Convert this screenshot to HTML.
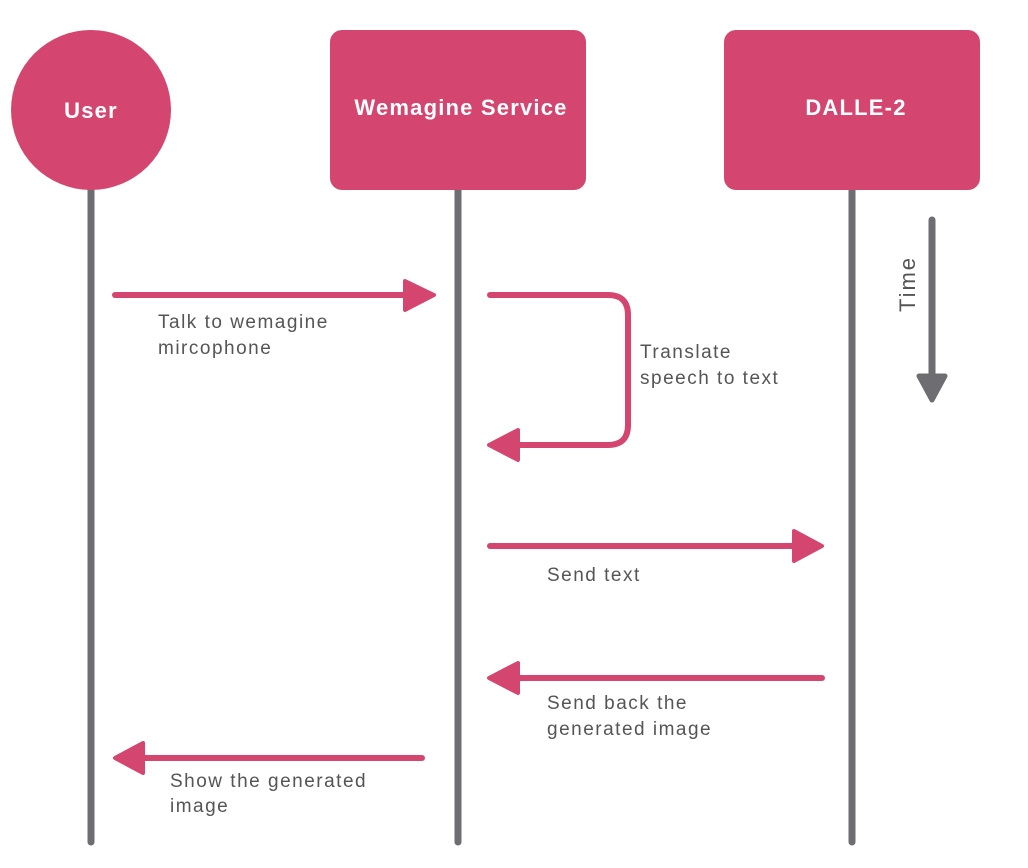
<!DOCTYPE html>
<html><head><style>
body{margin:0;width:1028px;height:868px;background:#fff;overflow:hidden}
svg{display:block}
</style></head><body>
<svg width="1028" height="868" viewBox="0 0 1028 868" font-family="Liberation Sans, sans-serif">
<g stroke="#6d6d72" stroke-width="7" stroke-linecap="round">
<line x1="91" y1="185" x2="91" y2="842"/>
<line x1="458" y1="185" x2="458" y2="842"/>
<line x1="852" y1="185" x2="852" y2="842"/>
</g>
<circle cx="91" cy="110" r="80" fill="#d4466f"/>
<rect x="330" y="30" width="256" height="160" rx="12" fill="#d4466f"/>
<rect x="724" y="30" width="256" height="160" rx="12" fill="#d4466f"/>
<g fill="#fff" font-weight="bold" font-size="22" text-anchor="middle" letter-spacing="1.2">
<text x="91" y="118">User</text>
<text x="461" y="115">Wemagine Service</text>
<text x="856" y="115">DALLE-2</text>
</g>
<g stroke="#d4466f" stroke-width="6" stroke-linecap="round" fill="none">
<line x1="115" y1="295" x2="410" y2="295"/>
<path d="M490 295 H608 Q628 295 628 315 V425 Q628 445 608 445 H515"/>
<line x1="490" y1="546" x2="798" y2="546"/>
<line x1="822" y1="678" x2="515" y2="678"/>
<line x1="422" y1="758" x2="140" y2="758"/>
</g>
<g fill="#d4466f" stroke="#d4466f" stroke-width="4" stroke-linejoin="round">
<polygon points="405,281 434,295 405,310"/>
<polygon points="518,430 489,445 518,460"/>
<polygon points="794,531 822,546 794,561"/>
<polygon points="518,663 489,678 518,693"/>
<polygon points="143,743 115,758 143,773"/>
</g>
<line x1="932" y1="220" x2="932" y2="380" stroke="#6d6d72" stroke-width="7" stroke-linecap="round"/>
<polygon points="919,376 945,376 932,400" fill="#6d6d72" stroke="#6d6d72" stroke-width="5" stroke-linejoin="round"/>
<text transform="translate(915,284) rotate(-90)" text-anchor="middle" font-size="22" letter-spacing="2" fill="#555">Time</text>
<g fill="#555" font-size="19" letter-spacing="1.5">
<text x="158" y="328">Talk to wemagine</text>
<text x="158" y="354">mircophone</text>
<text x="640" y="358">Translate</text>
<text x="640" y="384">speech to text</text>
<text x="547" y="581">Send text</text>
<text x="547" y="709">Send back the</text>
<text x="547" y="735">generated image</text>
<text x="170" y="787">Show the generated</text>
<text x="170" y="812">image</text>
</g>
</svg>
</body></html>
